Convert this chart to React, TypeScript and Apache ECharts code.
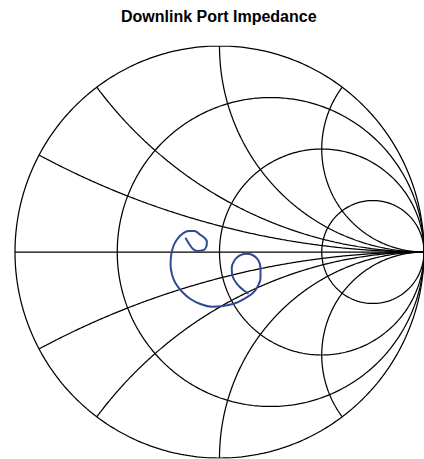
import React, { useEffect, useRef } from "react";
import * as echarts from "echarts";

// Smith chart grid values
const R_CIRCLES = [0, 1 / 3, 1, 3];
const X_ARCS = [0.25, 0.5, 1, 2, -0.25, -0.5, -1, -2];

// Measured reflection coefficient trace (real / imaginary parts)
const GAMMA_RE = [
  -0.1665, -0.1505, -0.1296, -0.1102, -0.0811, -0.0646, -0.0617, -0.0743, -0.0971, -0.1228,
  -0.1505, -0.1782, -0.2039, -0.2233, -0.2364, -0.2393, -0.2316, -0.215, -0.183, -0.1422,
  -0.0937, -0.0374, 0.0194, 0.0762, 0.1248, 0.1617, 0.1859, 0.2005, 0.2005, 0.1893,
  0.1617, 0.1296, 0.0971, 0.0714, 0.0597, 0.0646, 0.0874, 0.1165, 0.1422,
];
const GAMMA_IM = [
  0.0694, 0.0422, 0.0146, 0.0049, 0.0083, 0.0257, 0.05, 0.0694, 0.0859, 0.1019,
  0.1019, 0.0908, 0.0665, 0.034, -0.0146, -0.0631, -0.1117, -0.1519, -0.1927, -0.2282,
  -0.2524, -0.2655, -0.2621, -0.249, -0.2248, -0.2005, -0.1684, -0.1277, -0.0791, -0.0388,
  -0.0146, -0.0083, -0.018, -0.0437, -0.0791, -0.1199, -0.1568, -0.1845, -0.2015,
];

const TITLE = "Downlink Port Impedance";

function gamma(r: number, x: number): [number, number] {
  // (z-1)/(z+1)
  const dr = r + 1;
  const den = dr * dr + x * x;
  const nr = (r - 1) * dr + x * x;
  const ni = x * dr - (r - 1) * x;
  return [nr / den, ni / den];
}

function rCircle(r: number): [number, number][] {
  const pts: [number, number][] = [];
  const N = 400;
  for (let i = 1; i < N; i++) {
    const t = -Math.PI / 2 + (Math.PI * i) / N;
    pts.push(gamma(r, Math.tan(t)));
  }
  pts.unshift([1, 0]);
  pts.push([1, 0]);
  return pts;
}

function xArc(x: number): [number, number][] {
  const pts: [number, number][] = [];
  const N = 300;
  for (let i = 0; i < N; i++) {
    const t = (Math.PI / 2) * (i / N);
    pts.push(gamma(Math.tan(t), x));
  }
  pts.push([1, 0]);
  return pts;
}

export default function App() {
  const ref = useRef<HTMLDivElement>(null);
  useEffect(() => {
    if (!ref.current) return;
    const chart = echarts.init(ref.current, undefined, { renderer: "svg" });
    const gridStyle = { color: "#000", width: 1.25 };
    const series: any[] = [];
    R_CIRCLES.forEach((r) => {
      series.push({
        type: "line",
        data: rCircle(r),
        showSymbol: false,
        silent: true,
        lineStyle: gridStyle,
      });
    });
    X_ARCS.forEach((x) => {
      series.push({
        type: "line",
        data: xArc(x),
        showSymbol: false,
        silent: true,
        lineStyle: gridStyle,
      });
    });
    series.push({
      type: "line",
      data: [
        [-1, 0],
        [1, 0],
      ],
      showSymbol: false,
      silent: true,
      lineStyle: gridStyle,
    });
    series.push({
      type: "line",
      data: GAMMA_RE.map((v, i) => [v, GAMMA_IM[i]]),
      showSymbol: false,
      smooth: 0.4,
      lineStyle: { color: "#2f4a93", width: 2 },
    });
    chart.setOption({
      animation: false,
      backgroundColor: "#fff",
      title: {
        text: TITLE,
        left: 121,
        top: 8,
        padding: 0,
        textStyle: {
          fontFamily: "Liberation Sans, Arial, sans-serif",
          fontWeight: "bold",
          fontSize: 16,
          color: "#000",
        },
      },
      grid: { left: 15, top: 46, width: 412, height: 412 },
      xAxis: { type: "value", min: -1, max: 1, show: false },
      yAxis: { type: "value", min: -1, max: 1, show: false },
      series,
    });
    return () => chart.dispose();
  }, []);
  return (
    <div
      ref={ref}
      style={{ position: "fixed", left: 0, top: 0, width: 424, height: 459 }}
    />
  );
}
